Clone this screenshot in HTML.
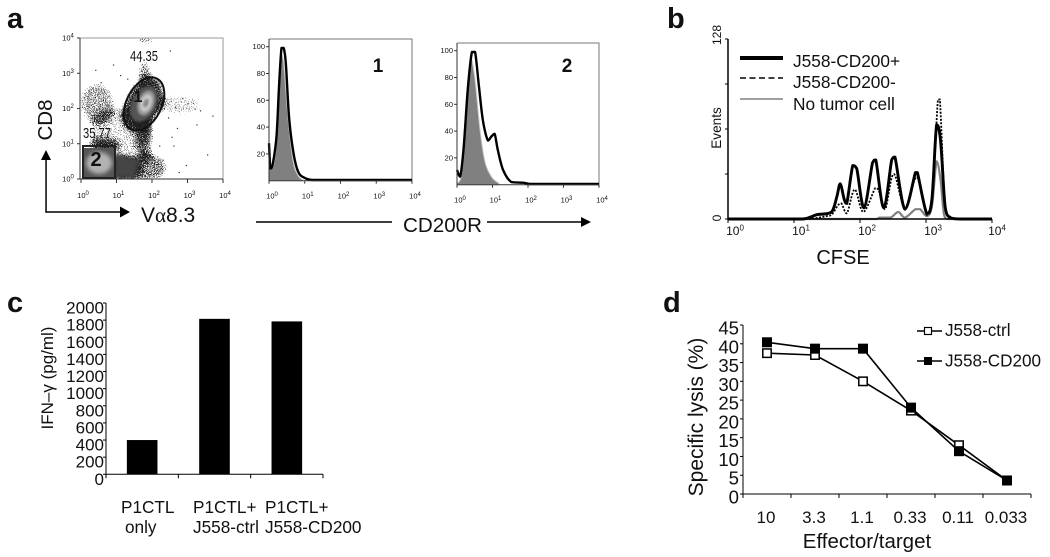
<!DOCTYPE html>
<html lang="en">
<head>
<meta charset="utf-8">
<title>CD200 multi-panel figure</title>
<style>
html,body{margin:0;padding:0;background:#fff;width:1050px;height:557px;overflow:hidden}
svg{display:block;filter:blur(.35px)}
text{font-family:"Liberation Sans",sans-serif;fill:#111}
</style>
</head>
<body>
<svg id="fig" xmlns="http://www.w3.org/2000/svg" width="1050" height="557" viewBox="0 0 1050 557">
  <defs>
    <filter id="speckle" x="0" y="0" width="1050" height="557" filterUnits="userSpaceOnUse" color-interpolation-filters="sRGB">
      <feGaussianBlur in="SourceAlpha" stdDeviation="3.5" result="soft"/>
      <feTurbulence type="fractalNoise" baseFrequency="1.1" numOctaves="2" seed="4" result="n"/>
      <feColorMatrix in="n" type="matrix" values="0 0 0 0 0  0 0 0 0 0  0 0 0 0 0  1 0 0 0 0" result="na"/>
      <feComposite in="soft" in2="na" operator="arithmetic" k1="0" k2="1" k3="1" k4="-1.15"/>
      <feColorMatrix type="matrix" values="0 0 0 0 0.12  0 0 0 0 0.12  0 0 0 0 0.12  0 0 0 9 0"/>
    </filter>
    <filter id="soft2"><feGaussianBlur stdDeviation="2"/></filter>
    <filter id="soft1"><feGaussianBlur stdDeviation="1"/></filter>
  </defs>

  <g font-weight="700" font-size="29">
    <text x="7" y="28" font-size="29" font-weight="700">a</text>
    <text x="667" y="28" font-size="29" font-weight="700">b</text>
    <text x="7" y="312" font-size="29" font-weight="700">c</text>
    <text x="663" y="312" font-size="29" font-weight="700">d</text>
  </g>

  <g id="flow"></g>
  <text font-size="20.5" text-anchor="middle" transform="translate(52 120) rotate(-90)">CD8</text>
  <text x="141" y="222" font-size="21">V<tspan font-family="Liberation Serif">α</tspan>8.3</text>
  <g fill="#000" stroke="none">
    <path d="M45.3 212V160H41L46 150L51 160H46.8V212Z"/>
    <path d="M45.3 211.3H120V206.5L130 212L120 217.5V212.8H45.3Z"/>
  </g>

  <g id="hist1"></g>
  <g id="hist2"></g>
  <text x="403" y="232" font-size="20.6">CD200R</text>
  <g>
    <line x1="256" y1="222" x2="392" y2="222" stroke="#000" stroke-width="1.5"/>
    <line x1="487" y1="222" x2="583" y2="222" stroke="#000" stroke-width="1.5"/>
    <path d="M581 217L591 222L581 227Z" fill="#000"/>
  </g>

  <g id="cfse"></g>
  <g id="bars"></g>
  <g id="lysis"></g>
</svg>

<script>
/* ---------- panel a: flow plot ---------- */
const flowTicks = ['0', '1', '2', '3', '4'];
const flowPopLogX = [0.45, 1.75, 1.85, 1.2, 1.78, 1.8, 1.8, 1.1, 2.75, 0.6];
const flowPopLogY = [2.15, 2.15, 0.33, 0.3, 3.0, 3.95, 1.3, 1.35, 2.1, 0.95];
const flowPopRx = [19, 19, 22, 18, 8, 11, 10, 32, 26, 18];
const flowPopRy = [22, 30, 16, 13, 15, 6, 30, 24, 12, 8];
const flowPopRotate = [0, 27, 0, 0, 0, 0, 0, 0, 0, 0];
const flowPopAlpha = [0.65, 0.84, 0.7, 0.95, 0.68, 0.68, 0.66, 0.55, 0.56, 0.72];
const sparseLogX = [0.4, 0.9, 1.3, 2.5, 2.65, 2.85, 3.0, 3.2, 3.35, 3.25, 2.45, 2.7, 3.7, 2.6, 2.2, 2.55, 2.95, 3.55, 1.1, 0.55, 1.65, 2.3, 2.75];
const sparseLogY = [3.1, 3.25, 2.85, 3.65, 2.05, 2.3, 2.15, 2.0, 1.95, 1.55, 1.75, 1.45, 1.8, 0.95, 0.95, 1.2, 0.4, 0.7, 2.95, 2.75, 3.35, 0.55, 0.2];
const flowLabels = ['44.35', '35.77'];

/* ---------- panel a: histograms ---------- */
const hist1LogX = [0, .04, .11, .21, .28, .35, .41, .47, .56, .67, .81, 1.0, 1.24, 4];
const hist1Black = [28, 9, 13, 33, 70, 99, 99, 88, 48, 23, 7, 2, .5, .5];
const hist1GrayLogX = [0, .11, .21, .28, .35, .41, .53, .67, .81, .95];
const hist1Gray = [8, 10, 28, 70, 94, 88, 48, 15, 4, .5];
const hist2LogX = [0, .09, .19, .31, .42, .51, .62, .73, .87, .97, 1.06, 1.15, 1.3, 1.53, 1.86, 2.05, 4];
const hist2Black = [11, 6, 28, 73, 99, 99, 73, 48, 33, 36, 38, 26, 11, 2, 1.5, .5, .5];
const hist2GrayLogX = [0, .12, .26, .38, .5, .64, .78, .97, 1.18];
const hist2Gray = [1, 6, 63, 95, 80, 43, 18, 6, 1];
const histYTicks = [20, 40, 60, 80, 100];
const histXTicks = ['0', '1', '2', '3', '4'];

/* ---------- panel b: CFSE ---------- */
const cfseBlackLogX = [0, 1.14, 1.34, 1.57, 1.65, 1.70, 1.76, 1.80, 1.89, 1.95, 2.06, 2.19, 2.24, 2.36, 2.48, 2.53, 2.68, 2.84, 2.87, 3.01, 3.09, 3.16, 3.22, 3.29, 3.37, 3.52, 4];
const cfseBlack = [0, 0, 3, 5, 16, 25, 14, 11, 38, 36, 8, 40, 42, 8, 42, 44, 7, 33, 33, 4, 14, 67, 56, 9, 1, 0, 0];
const cfseDashLogX = [0, 1.19, 1.49, 1.57, 1.67, 1.72, 1.80, 1.92, 2.05, 2.23, 2.28, 2.38, 2.51, 2.68, 2.86, 3.01, 3.09, 3.18, 3.21, 3.29, 3.37, 3.52, 4];
const cfseDash = [0, 0, 2, 3, 10, 11, 4, 21, 5, 22, 21, 7, 32, 8, 30, 3, 14, 85, 85, 9, 1, 0, 0];
const cfseGrayLogX = [0, 2.25, 2.30, 2.46, 2.58, 2.68, 2.84, 2.91, 3.01, 3.09, 3.16, 3.22, 3.27, 3.32, 4];
const cfseGray = [0, 0, 1, 1, 5, 1, 7, 7, 2, 9, 41, 28, 4, 0, 0];
const cfseXTicks = ['0', '1', '2', '3', '4'];
const cfseLegend = ['J558-CD200+', 'J558-CD200-', 'No tumor cell'];

/* ---------- panel c: bars ---------- */
const barCategoriesLine1 = ['P1CTL', 'P1CTL+', 'P1CTL+'];
const barCategoriesLine2 = ['only', 'J558-ctrl', 'J558-CD200'];
const barValues = [400, 1815, 1785];
const barYTicks = [0, 200, 400, 600, 800, 1000, 1200, 1400, 1600, 1800, 2000];

/* ---------- panel d: lines ---------- */
const ratios = ['10', '3.3', '1.1', '0.33', '0.11', '0.033'];
const lysisCtrl = [37.5, 37, 30, 22.2, 13, 3.6];
const lysisCd200 = [40.4, 38.7, 38.7, 23, 11.4, 3.6];
const lysisYTicks = [0, 5, 10, 15, 20, 25, 30, 35, 40, 45];

const NS = 'http://www.w3.org/2000/svg';
function mk(tag, attrs, parent) {
  const n = document.createElementNS(NS, tag);
  for (const k in attrs) n.setAttribute(k, attrs[k]);
  parent.appendChild(n);
  return n;
}
function pathOf(xs, ys, sx, sy) {
  return xs.map((v, i) => (i ? 'L' : 'M') + sx(v).toFixed(1) + ' ' + sy(ys[i]).toFixed(1)).join('');
}
/* smooth curve through the data, control points clamped so it never overshoots */
function smoothOf(xs, ys, sx, sy) {
  const px = xs.map(sx), py = ys.map(sy);
  const clamp = (v, a, b) => Math.max(Math.min(a, b), Math.min(Math.max(a, b), v));
  let d = 'M' + px[0].toFixed(1) + ' ' + py[0].toFixed(1);
  for (let i = 0; i < px.length - 1; i++) {
    const p0 = Math.max(i - 1, 0), p3 = Math.min(i + 2, px.length - 1);
    const c1x = px[i] + Math.min((px[i + 1] - px[p0]) / 6, (px[i + 1] - px[i]) / 2);
    const c1y = clamp(py[i] + (py[i + 1] - py[p0]) / 6, py[i], py[i + 1]);
    const c2x = px[i + 1] - Math.min((px[p3] - px[i]) / 6, (px[i + 1] - px[i]) / 2);
    const c2y = clamp(py[i + 1] - (py[p3] - py[i]) / 6, py[i], py[i + 1]);
    d += 'C' + c1x.toFixed(1) + ' ' + c1y.toFixed(1) + ' ' + c2x.toFixed(1) + ' ' + c2y.toFixed(1) + ' ' + px[i + 1].toFixed(1) + ' ' + py[i + 1].toFixed(1);
  }
  return d;
}
function powerLabel(parent, x, y, exp, size, supSize) {
  const t = mk('text', {x: x, y: y, 'font-size': size, 'text-anchor': 'middle', fill: '#222'}, parent);
  t.textContent = '10';
  const s = mk('tspan', {'font-size': supSize, dy: -size * 0.38}, t);
  s.textContent = exp;
  return t;
}

/* ===== flow plot ===== */
(function () {
  const g = document.getElementById('flow');
  const sx = v => 81 + v * 35.5;
  const sy = v => 179 - v * 35.25;
  const clip = mk('clipPath', {id: 'flowClip'}, g);
  mk('rect', {x: 80, y: 38, width: 143, height: 141}, clip);
  const body = mk('g', {'clip-path': 'url(#flowClip)'}, g);
  const speck = mk('g', {filter: 'url(#speckle)'}, body);
  flowPopLogX.forEach((v, i) => {
    const e = mk('ellipse', {cx: sx(v), cy: sy(flowPopLogY[i]), rx: flowPopRx[i], ry: flowPopRy[i], 'fill-opacity': flowPopAlpha[i], transform: 'rotate(' + flowPopRotate[i] + ' ' + sx(v) + ' ' + sy(flowPopLogY[i]) + ')'}, speck);
    
    
  });
  sparseLogX.forEach((v, i) => {
    const d = mk('rect', {x: sx(v), y: sy(sparseLogY[i]), width: 1.2, height: 1.2, fill: '#333'}, body);
    
    
  });
  /* contour cores */
  const band = mk('path', {d: 'M114 153L140 160L135 178H114Z', fill: '#444', filter: 'url(#soft2)'}, body);
  
  
  const coreBox = mk('rect', {x: 84, y: 148, width: 30, height: 30, fill: '#555'}, body);
  
  
  const coreLight = mk('ellipse', {cx: 99, cy: 163, rx: 13, ry: 11, fill: '#b2b2b2', filter: 'url(#soft2)'}, body);
  
  
  const ringA = mk('ellipse', {cx: 144, cy: 104, rx: 12, ry: 19, fill: '#555', transform: 'rotate(27 144 104)', filter: 'url(#soft1)'}, body);
  
  
  const ringB = mk('ellipse', {cx: 146, cy: 103, rx: 8, ry: 13, fill: '#999', transform: 'rotate(20 146 103)', filter: 'url(#soft1)'}, body);
  
  
  const ringC = mk('ellipse', {cx: 146, cy: 103, rx: 5.5, ry: 9, fill: '#c8c8c8', transform: 'rotate(20 146 103)', filter: 'url(#soft1)'}, body);
  
  
  const ringD = mk('ellipse', {cx: 146, cy: 103, rx: 2.5, ry: 4.5, fill: '#888', transform: 'rotate(20 146 103)', filter: 'url(#soft1)'}, body);
  
  

  const frame = mk('path', {d: 'M80 38H223V179', fill: 'none', stroke: '#999', 'stroke-width': 1}, g);
  
  
  const axes = mk('path', {d: 'M80 38V179H223', fill: 'none', stroke: '#333', 'stroke-width': 1}, g);
  
  

  flowTicks.forEach((t, i) => {
    const tickX = mk('line', {x1: sx(i), x2: sx(i), y1: 179, y2: 183, stroke: '#333'}, g);
    
    
    const tickY = mk('line', {x1: 77, x2: 80, y1: sy(i), y2: sy(i), stroke: '#333'}, g);
    
    
    const lx = powerLabel(g, sx(i) + 2, 198, t, 7.5, 6);
    
    
    const ly = powerLabel(g, 68, sy(i) + 2.5, t, 7.5, 6);
    
    
  });

  const gate1 = mk('ellipse', {cx: 144, cy: 104, rx: 17.5, ry: 28.5, fill: 'none', stroke: '#111', 'stroke-width': 2, transform: 'rotate(27 144 104)'}, g);
  
  
  const gate2 = mk('rect', {x: 83, y: 146, width: 32, height: 32, fill: 'none', stroke: '#222', 'stroke-width': 2}, g);
  
  

  const l1 = mk('text', {x: 144, y: 61, 'font-size': 15, 'text-anchor': 'middle', textLength: 28, lengthAdjust: 'spacingAndGlyphs', fill: '#222'}, g);
  l1.textContent = flowLabels[0];
  
  
  const l2 = mk('text', {x: 97, y: 138, 'font-size': 15, 'text-anchor': 'middle', textLength: 28, lengthAdjust: 'spacingAndGlyphs', fill: '#222'}, g);
  l2.textContent = flowLabels[1];
  
  
  const n1 = mk('text', {x: 138, y: 102, 'font-size': 16, 'font-weight': 700, 'text-anchor': 'middle'}, g);
  n1.textContent = '1';
  
  
  const n2 = mk('text', {x: 96, y: 166, 'font-size': 20, 'font-weight': 700, 'text-anchor': 'middle'}, g);
  n2.textContent = '2';
  
  
})();

/* ===== histograms ===== */
function drawHist(id, x0, x1, y0, yTop, frameTop, grayX, gray, blackX, black, label) {
  const g = document.getElementById(id);
  const sx = v => x0 + v * (x1 - x0) / 4;
  const sy = v => y0 - v * (y0 - yTop) / 100;
  const fill = mk('path', {d: smoothOf(grayX, gray, sx, sy) + 'L' + sx(grayX[grayX.length - 1]) + ' ' + y0 + 'L' + x0 + ' ' + y0 + 'Z', fill: '#808080', stroke: '#c8c8c8', 'stroke-width': 1}, g);
  
  
  const frame = mk('path', {d: 'M' + x0 + ' ' + frameTop + 'H' + x1 + 'V' + y0, fill: 'none', stroke: '#777', 'stroke-width': 1}, g);
  
  
  const line = mk('path', {d: smoothOf(blackX, black, sx, sy), fill: 'none', stroke: '#000', 'stroke-width': 2.4, 'stroke-linejoin': 'round'}, g);
  
  
  const axes = mk('path', {d: 'M' + x0 + ' ' + frameTop + 'V' + y0 + 'H' + x1, fill: 'none', stroke: '#333', 'stroke-width': 1}, g);
  
  
  histYTicks.forEach(v => {
    const t = mk('line', {x1: x0 - 3, x2: x0, y1: sy(v), y2: sy(v), stroke: '#333'}, g);
    
    
    const l = mk('text', {x: x0 - 4, y: sy(v) + 2.5, 'font-size': 7.5, 'text-anchor': 'end', fill: '#222'}, g);
    l.textContent = v;
    
    
  });
  histXTicks.forEach((e, i) => {
    const t = mk('line', {x1: sx(i), x2: sx(i), y1: y0, y2: y0 + 3, stroke: '#333'}, g);
    
    
    const l = powerLabel(g, sx(i) + 3, y0 + 18, e, 7.5, 6);
    
    
  });
  const n = mk('text', {x: (id === 'hist1' ? 378 : 567), y: 72, 'font-size': 19, 'font-weight': 700, 'text-anchor': 'middle'}, g);
  n.textContent = label;
  
  
}
drawHist('hist1', 269, 412, 180.7, 46.7, 39, hist1GrayLogX, hist1Gray, hist1LogX, hist1Black, '1');
drawHist('hist2', 457, 599, 184.7, 50.7, 43, hist2GrayLogX, hist2Gray, hist2LogX, hist2Black, '2');

/* ===== CFSE ===== */
(function () {
  const g = document.getElementById('cfse');
  const sx = v => 728 + v * 66;
  const sy = v => 219 - v * 180 / 128;
  const gray = mk('path', {d: smoothOf(cfseGrayLogX, cfseGray, sx, sy), fill: 'none', stroke: '#808080', 'stroke-width': 2.2}, g);
  
  
  const black = mk('path', {d: smoothOf(cfseBlackLogX, cfseBlack, sx, sy), fill: 'none', stroke: '#000', 'stroke-width': 2.9, 'stroke-linejoin': 'round'}, g);
  
  
  const dash = mk('path', {d: smoothOf(cfseDashLogX, cfseDash, sx, sy), fill: 'none', stroke: '#000', 'stroke-width': 1.8, 'stroke-dasharray': '2 1.5'}, g);
  
  
  const axes = mk('path', {d: 'M728 39V219H992', fill: 'none', stroke: '#000', 'stroke-width': 1.5}, g);
  
  
  [0, 32, 64, 96, 128].forEach(v => {
    const t = mk('line', {x1: 725, x2: 728, y1: sy(v), y2: sy(v), stroke: '#000'}, g);
    
    
  });
  cfseXTicks.forEach((e, i) => {
    const t = mk('line', {x1: sx(i), x2: sx(i), y1: 219, y2: 223, stroke: '#000'}, g);
    
    
    const l = powerLabel(g, sx(i) + (i === 4 ? 5 : 7), 235, e, 12, 8);
    
    
  });
  const y128 = mk('text', {transform: 'translate(721 35) rotate(-90)', 'font-size': 12, 'text-anchor': 'middle'}, g);
  y128.textContent = '128';
  
  
  const y0 = mk('text', {transform: 'translate(721 218) rotate(-90)', 'font-size': 12, 'text-anchor': 'middle'}, g);
  y0.textContent = '0';
  
  
  const yt = mk('text', {transform: 'translate(721 128) rotate(-90)', 'font-size': 13.6, 'text-anchor': 'middle'}, g);
  yt.textContent = 'Events';
  
  
  const xt = mk('text', {x: 843, y: 264, 'font-size': 20, 'text-anchor': 'middle'}, g);
  xt.textContent = 'CFSE';
  
  

  const swatchStroke = ['#000', '#000', '#808080'];
  const swatchWidth = [4, 1.5, 1.5];
  const swatchDash = ['none', '6 3.5', 'none'];
  cfseLegend.forEach((txt, i) => {
    const y = [58, 78, 99][i];
    const s = mk('line', {x1: 740, x2: 783, y1: y, y2: y, stroke: swatchStroke[i], 'stroke-width': swatchWidth[i], 'stroke-dasharray': swatchDash[i]}, g);
    
    
    const l = mk('text', {x: 793, y: [67, 88, 110][i], 'font-size': 17.3}, g);
    l.textContent = txt;
    
    
  });
})();

/* ===== bars ===== */
(function () {
  const g = document.getElementById('bars');
  const x0 = 106, x1 = 323, yB = 474.3, yT = 303;
  const sy = v => yB - v * (yB - yT) / 2000;
  const band = (x1 - x0) / barValues.length;
  barValues.forEach((v, i) => {
    const b = mk('rect', {x: x0 + band * (i + .5) - 15.3, y: sy(v), width: 30.6, height: yB - sy(v), fill: '#000'}, g);
    
    
    const l1 = mk('text', {x: [121, 193, 265][i], y: 513, 'font-size': 17.2}, g);
    l1.textContent = barCategoriesLine1[i];
    
    
    const l2 = mk('text', {x: [125, 193, 265][i], y: 533, 'font-size': 17.2}, g);
    l2.textContent = barCategoriesLine2[i];
    
    
  });
  const ax = mk('path', {d: 'M' + x0 + ' ' + yT + 'V' + yB + 'H' + x1, fill: 'none', stroke: '#000', 'stroke-width': 1}, g);
  
  
  barYTicks.forEach(v => {
    const t = mk('line', {x1: x0 - 3, x2: x0, y1: sy(v), y2: sy(v), stroke: '#000'}, g);
    
    
    const l = mk('text', {x: 104, y: sy(v) + 10.5, 'font-size': 17, 'text-anchor': 'end'}, g);
    l.textContent = v;
    
    
  });
  for (let i = 0; i <= barValues.length; i++) {
    const t = mk('line', {x1: x0 + band * i, x2: x0 + band * i, y1: yB, y2: yB + 4, stroke: '#000'}, g);
    
    
  }
  const title = mk('text', {transform: 'translate(53 378) rotate(-90)', 'font-size': 17, 'text-anchor': 'middle'}, g);
  title.textContent = 'IFN–γ (pg/ml)';
  
  
})();

/* ===== lines ===== */
(function () {
  const g = document.getElementById('lysis');
  const x0 = 743, x1 = 1031, yB = 494, yT = 325;
  const sy = v => yB - v * (yB - yT) / 45;
  const band = (x1 - x0) / ratios.length;
  const sx = i => x0 + band * (i + .5);
  const idx = ratios.map((_, i) => i);
  const ax = mk('path', {d: 'M' + x0 + ' ' + yT + 'V' + yB + 'H' + x1, fill: 'none', stroke: '#000', 'stroke-width': 1}, g);
  
  
  lysisYTicks.forEach(v => {
    const t = mk('line', {x1: x0 - 3, x2: x0, y1: sy(v), y2: sy(v), stroke: '#000'}, g);
    
    
    const l = mk('text', {x: 739, y: sy(v) + 9.5, 'font-size': 18.6, 'text-anchor': 'end'}, g);
    l.textContent = v;
    
    
  });
  for (let i = 0; i <= ratios.length; i++) {
    const t = mk('line', {x1: x0 + band * i, x2: x0 + band * i, y1: yB, y2: yB + 4, stroke: '#000'}, g);
    
    
  }
  ratios.forEach((r, i) => {
    const l = mk('text', {x: sx(i) - 1, y: 523, 'font-size': 17, 'text-anchor': 'middle'}, g);
    l.textContent = r;
    
    
  });
  const lineCtrl = mk('path', {d: pathOf(idx, lysisCtrl, sx, sy), fill: 'none', stroke: '#000', 'stroke-width': 1.6}, g);
  
  
  const lineCd = mk('path', {d: pathOf(idx, lysisCd200, sx, sy), fill: 'none', stroke: '#000', 'stroke-width': 1.6}, g);
  
  
  lysisCtrl.forEach((v, i) => {
    const m = mk('rect', {x: sx(i) - 4.2, y: sy(v) - 4.2, width: 8.4, height: 8.4, fill: '#fff', stroke: '#000', 'stroke-width': 1.5}, g);
    
    
  });
  lysisCd200.forEach((v, i) => {
    const m = mk('rect', {x: sx(i) - 5, y: sy(v) - 5, width: 10, height: 10, fill: '#000'}, g);
    
    
  });
  const xt = mk('text', {x: 867, y: 548, 'font-size': 20.5, 'text-anchor': 'middle'}, g);
  xt.textContent = 'Effector/target';
  
  
  const yt = mk('text', {transform: 'translate(703 417) rotate(-90)', 'font-size': 21, 'text-anchor': 'middle'}, g);
  yt.textContent = 'Specific lysis (%)';
  
  

  const s1 = mk('line', {x1: 917, x2: 942, y1: 331, y2: 331, stroke: '#000', 'stroke-width': 1.4}, g);
  
  
  const m1 = mk('rect', {x: 924.5, y: 327.5, width: 7, height: 7, fill: '#fff', stroke: '#000', 'stroke-width': 1.2}, g);
  
  
  const t1 = mk('text', {x: 945, y: 336, 'font-size': 17.1}, g);
  t1.textContent = 'J558-ctrl';
  
  
  const s2 = mk('line', {x1: 917, x2: 942, y1: 361, y2: 361, stroke: '#000', 'stroke-width': 1.4}, g);
  
  
  const m2 = mk('rect', {x: 924, y: 357, width: 8, height: 8, fill: '#000'}, g);
  
  
  const t2 = mk('text', {x: 945, y: 366.5, 'font-size': 17.1}, g);
  t2.textContent = 'J558-CD200';
  
  
})();
</script>
</body>
</html>
